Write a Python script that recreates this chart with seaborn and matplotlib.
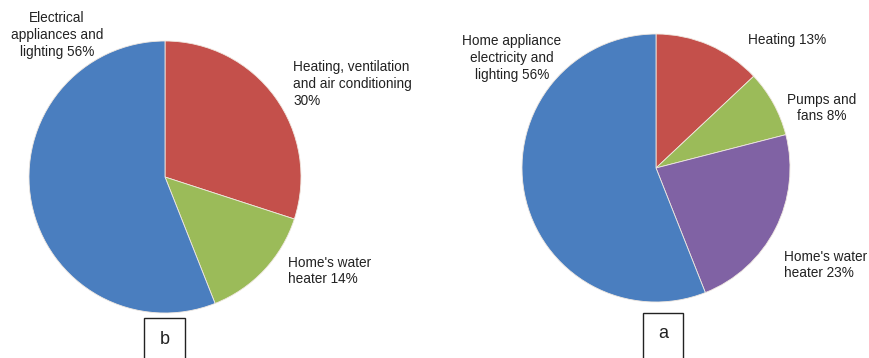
import matplotlib
matplotlib.use("Agg")
import matplotlib.pyplot as plt
from matplotlib.patches import Rectangle
import seaborn as sns

sns.set_theme(style="white")
plt.rcParams['font.family'] = ['Liberation Sans', 'DejaVu Sans']

# Data: panel b (left)
b_categories = ["Heating, ventilation\nand air conditioning\n30%",
                "Home's water\nheater 14%",
                "Electrical\nappliances and\nlighting 56%"]
b_values = [30, 14, 56]
b_colors = ["#c4504b", "#9bbb59", "#4a7ebf"]

# Data: panel a (right)
a_categories = ["Heating 13%", "Pumps and\nfans 8%",
                "Home's water\nheater 23%",
                "Home appliance\nelectricity and\nlighting 56%"]
a_values = [13, 8, 23, 56]
a_colors = ["#c4504b", "#9bbb59", "#8062a4", "#4a7ebf"]

W, H = 869, 358
fig = plt.figure(figsize=(W / 100, H / 100), dpi=100)
fig.patch.set_facecolor("white")


def pie_axes(cx, cy, r):
    ax = fig.add_axes([(cx - r) / W, 1 - (cy + r) / H, 2 * r / W, 2 * r / H])
    return ax


def finish(ax):
    ax.set_xlim(-1, 1)
    ax.set_ylim(-1, 1)
    ax.set_aspect("equal")
    ax.axis("off")


ax_b = pie_axes(165, 177, 136)
ax_b.pie(b_values, colors=b_colors, startangle=90, counterclock=False,
         radius=1, wedgeprops=dict(edgecolor="#f0e8e0", linewidth=0.6))
finish(ax_b)

ax_a = pie_axes(656, 168, 134)
ax_a.pie(a_values, colors=a_colors, startangle=90, counterclock=False,
         radius=1, wedgeprops=dict(edgecolor="#f0e8e0", linewidth=0.6))
finish(ax_a)

txt = dict(fontsize=9.8, color="#222222", linespacing=1.25)


def ftext(x, y, s, ha="left", va="center", **kw):
    d = dict(txt)
    d.update(kw)
    fig.text(x / W, 1 - y / H, s, ha=ha, va=va, multialignment=ha, **d)


# Left labels
ftext(57, 35, b_categories[2], ha="center")
ftext(293, 84, b_categories[0], ha="left")
ftext(288, 271, b_categories[1], ha="left")

# Right labels
ftext(512, 58, a_categories[3], ha="center")
ftext(748, 40, a_categories[0], ha="left")
ftext(822, 108, a_categories[1], ha="center")
ftext(784, 265, a_categories[2], ha="left")

# Panel letter boxes
for (x0, y0, x1, letter) in [(144, 318, 185, "b"), (643, 313, 683, "a")]:
    rect = Rectangle((x0 / W, 1 - 360 / H), (x1 - x0) / W, (360 - y0) / H,
                     transform=fig.transFigure, fill=False,
                     edgecolor="#222222", linewidth=1.0)
    fig.patches.append(rect)
    fig.text((x0 + x1) / 2 / W, 1 - (y0 + 21) / H, letter, ha="center",
             va="center", fontsize=13, color="#222222")

fig.savefig("out.png", dpi=100, facecolor="white")
